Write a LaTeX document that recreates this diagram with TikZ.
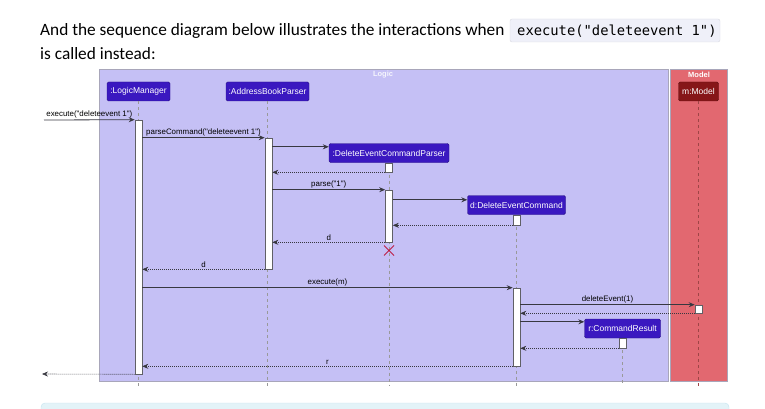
\documentclass[tikz,border=0pt]{standalone}
\usepackage{fontspec}
\setmainfont{Carlito}
\newfontfamily\diagfont{Liberation Sans}
\newfontfamily\codefont{DejaVu Sans Mono}
\usetikzlibrary{arrows.meta, positioning, calc, shapes.misc}

\definecolor{logicc}{RGB}{197,192,245}
\definecolor{modelc}{RGB}{226,104,112}
\definecolor{framec}{RGB}{168,166,186}
\definecolor{partc}{RGB}{58,24,192}
\definecolor{mpartc}{RGB}{134,22,24}
\definecolor{msgc}{RGB}{56,56,64}
\definecolor{crossc}{RGB}{190,30,70}
\definecolor{codebg}{RGB}{239,240,249}
\definecolor{notebg}{RGB}{227,243,248}
\definecolor{notedraw}{RGB}{196,227,238}

\begin{document}
\begin{tikzpicture}[x=1pt, y=-1pt, >={Stealth[length=6pt,width=5pt,inset=2pt]},
    participant/.style={draw=partc!70!black, fill=partc, rounded corners=1.5pt, text=white,
      minimum height=19pt, inner sep=0pt, font=\diagfont\fontsize{8.5}{10}\selectfont},
    act/.style={draw=msgc!80, fill=white, line width=0.6pt, minimum width=7pt, inner sep=0pt},
    life/.style={draw=gray!80, line width=0.6pt, dash pattern=on 3pt off 3pt},
    msg/.style={->, draw=msgc, line width=0.8pt},
    ret/.style={->, draw=msgc, line width=0.6pt, dash pattern=on 1pt off 1pt},
    lbl/.style={midway, above, inner sep=1.5pt, text=black, font=\diagfont\fontsize{7.9}{9}\selectfont},
    frametitle/.style={text=white, font=\diagfont\bfseries\fontsize{7.5}{8}\selectfont}]
    \useasboundingbox (0,0) rectangle (765,409);

    % Page text
    \node[anchor=base west, inner sep=0pt, font=\fontsize{17.3}{20}\selectfont] (intro) at (40,36)
      {And the sequence diagram below illustrates the interactions when};
    \fill[codebg, draw=codebg!80!gray, rounded corners=2pt] (510,19) rectangle (720,42);
    \node[anchor=base west, inner sep=0pt, font=\codefont\fontsize{13.8}{16}\selectfont] (code) at (517,36)
      {execute("deleteevent 1")};
    \node[anchor=base west, inner sep=0pt, font=\fontsize{17.3}{20}\selectfont] (intro2) at (40,60)
      {is called instead:};

    % Note box below
    \draw[fill=notebg, draw=notedraw, rounded corners=4pt] (41,403) rectangle (729,425);

    % Frames
    \draw[fill=logicc, draw=framec, line width=0.8pt] (99,69) rectangle (668,381);
    \draw[fill=modelc, draw=framec, line width=0.8pt] (670,69) rectangle (727,381);
    \node[frametitle, text=white!85!logicc] (logicLbl) at (383,74.5) {Logic};
    \node[frametitle] (modelLbl) at (699,74.5) {Model};

    % Participants
    \node[participant, minimum width=63pt] (lm) at (138.5,91.5) {:LogicManager};
    \node[participant, minimum width=83pt] (abp) at (267.5,91.5) {:AddressBookParser};
    \node[participant, minimum width=120pt] (decp) at (389,153) {:DeleteEventCommandParser};
    \node[participant, minimum width=98pt] (dec) at (516.5,205) {d:DeleteEventCommand};
    \node[participant, minimum width=76pt] (cr) at (622.5,328.5) {r:CommandResult};
    \node[participant, minimum width=40pt, fill=mpartc, draw=mpartc!70!black] (mdl) at (698.5,91.5) {m:Model};

    % Lifelines
    \coordinate (bottom) at (0,386);
    \foreach \p in {lm, abp, decp, dec, cr}
      \draw[life] (\p.south) -- (\p.south |- bottom);
    \draw[life, draw=mpartc!80] (mdl.south) -- (mdl.south |- bottom);

    % Activations
    \node[act, minimum height=254pt] (lmAct) at (138.5,247) {};
    \node[act, minimum height=131pt] (abpAct) at (268.5,203.5) {};
    \node[act, minimum height=9pt] (decpActA) at (389,167.5) {};
    \node[act, minimum height=52pt] (decpActB) at (389,216) {};
    \node[act, minimum height=10pt] (decActA) at (516.5,220) {};
    \node[act, minimum height=78pt] (decActB) at (516.5,327) {};
    \node[act, minimum height=8pt] (mdlAct) at (698.5,309) {};
    \node[act, minimum height=10pt] (crAct) at (622.5,343) {};

    % Messages
    \coordinate (callIn) at (44,120);
    \coordinate (callOut) at (42,374);
    \draw[msg] (callIn) -- (lmAct.north west) node[lbl] {execute("deleteevent 1")};
    \draw[msg] (lmAct.east |- abpAct.north) -- (abpAct.north west) node[lbl] {parseCommand("deleteevent 1")};
    \draw[msg] ($(abpAct.east |- decp.north)+(0,3.5)$) -- ($(decp.north west)+(0,3.5)$);
    \draw[ret] (decpActA.south west) -- (abpAct.east |- decpActA.south);
    \draw[msg] (abpAct.east |- decpActB.north) -- (decpActB.north west) node[lbl] {parse("1")};
    \draw[msg] ($(decpActB.east |- dec.north)+(0,4.5)$) -- ($(dec.north west)+(0,4.5)$);
    \draw[ret] (decActA.south west) -- (decpActB.east |- decActA.south);
    \draw[ret] (decpActB.south west) -- (abpAct.east |- decpActB.south) node[lbl] {d};
    \node[cross out, draw=crossc, line width=1pt, minimum size=9pt, inner sep=0pt] (destroy) at (389,250.5) {};
    \draw[ret] (abpAct.south west) -- (lmAct.east |- abpAct.south) node[lbl] {d};
    \draw[msg] (lmAct.east |- decActB.north) -- (decActB.north west) node[lbl] {execute(m)};
    \draw[msg] (decActB.east |- mdlAct.north) -- (mdlAct.north west) node[lbl] {deleteEvent(1)};
    \draw[ret] (mdlAct.south west) -- (decActB.east |- mdlAct.south);
    \draw[msg] ($(decActB.east |- cr.north)+(0,3)$) -- ($(cr.north west)+(0,3)$);
    \draw[ret] (crAct.south west) -- (decActB.east |- crAct.south);
    \draw[ret] (decActB.south west) -- (lmAct.east |- decActB.south) node[lbl] {r};
    \draw[ret] (lmAct.south west) -- (callOut);
\end{tikzpicture}
\end{document}
